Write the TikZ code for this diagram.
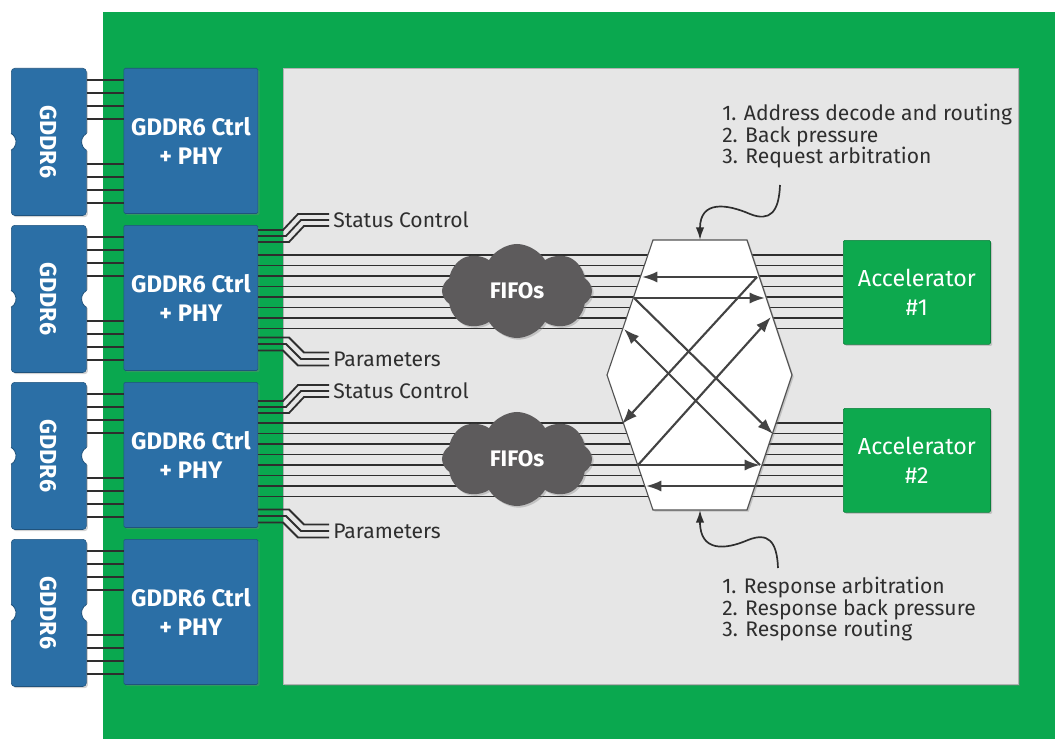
\documentclass[tikz,border=0pt]{standalone}
\usepackage{fontspec}
\setmainfont{Fira Sans}
\usetikzlibrary{arrows.meta, positioning, calc, shapes.symbols, shadows}
\definecolor{boardgreen}{HTML}{0AA84F}
\definecolor{accgreen}{HTML}{0DA94E}
\definecolor{ctrlblue}{HTML}{2B6FA6}
\definecolor{panelgray}{HTML}{E6E6E6}
\definecolor{fifogray}{HTML}{5D5B5C}
\definecolor{wiregray}{HTML}{2E2E2E}

\begin{document}
\begin{tikzpicture}[x=0.025cm, y=-0.025cm,
  softshadow/.style={drop shadow={opacity=0.35, shadow xshift=1.2pt, shadow yshift=-1.2pt}},
  chip/.style={draw=ctrlblue!75!black, fill=ctrlblue, rounded corners=2.5pt, minimum width=1.875cm, minimum height=3.68cm, inner sep=0pt, softshadow,
    label={[rotate=-90, text=white, font=\fontsize{16.5}{16.5}\selectfont\bfseries]center:GDDR6}},
  ctrl/.style={draw=ctrlblue!75!black, fill=ctrlblue, rounded corners=1pt, minimum width=3.35cm, minimum height=3.63cm, softshadow, text=white, font=\fontsize{17}{20}\selectfont\bfseries, align=center},
  accel/.style={draw=accgreen!75!black, fill=accgreen, rounded corners=1pt, minimum width=3.68cm, minimum height=2.6cm, softshadow, text=white, font=\fontsize{16.5}{20.5}\selectfont, align=center},
  fifo/.style={cloud, cloud puffs=8, cloud puff arc=120, aspect=1.6, fill=fifogray, softshadow, minimum width=3.75cm, minimum height=2.35cm, text=white, font=\fontsize{16}{16}\selectfont\bfseries},
  notch/.style={fill=white},
  notchedge/.style={draw=ctrlblue!75!black, line width=0.6pt},
  wire/.style={wiregray, line width=1.2pt},
  bus/.style={wiregray, line width=1.3pt},
  xarrow/.style={-{Latex[length=11pt, width=8pt]}, wiregray!90, line width=1.5pt},
  curl/.style={-{Latex[length=9pt, width=6pt]}, wiregray, line width=1.2pt},
  tag/.style={anchor=west, inner sep=0pt, text=wiregray, font=\fontsize{15}{15}\selectfont},
  note/.style={anchor=north west, inner sep=0pt, align=left, text=wiregray, font=\fontsize{15}{15.3}\selectfont},
]
\useasboundingbox (0,0) rectangle (1055,742);

% Board and fabric area
\fill[boardgreen] (103,12) rectangle (1060,739);
\path[fill=panelgray, draw=gray!60, softshadow] (283,68) rectangle (1018,684);

% Memory chips and controllers
\foreach \i/\t in {1/68, 2/225, 3/382, 4/539} {
  \node[chip, anchor=north west] (chip\i) at (11,\t) {};
  \fill[notch] ([xshift=-3.3pt]chip\i.west) circle[radius=6.9pt] ([xshift=3.3pt]chip\i.east) circle[radius=6.9pt];
  \draw[notchedge] ([xshift=-3.3pt]chip\i.west) ++(-61:6.9pt) arc[start angle=-61, end angle=61, radius=6.9pt];
  \draw[notchedge] ([xshift=3.3pt]chip\i.east) ++(119:6.9pt) arc[start angle=119, end angle=241, radius=6.9pt];
  \node[ctrl, right=0.925cm of chip\i.north east, anchor=north west] (ctrl\i) {GDDR6 Ctrl\\+ PHY};
  \foreach \o in {12,25,38,51,96,109,122,135}
    \draw[wire] ($(chip\i.north east)+(0,\o)$) coordinate (w) -- (ctrl\i.west |- w);
}

% Accelerators
\node[accel, anchor=north west] (acc1) at (843,240) {Accelerator\\\#1};
\node[accel, anchor=north west] (acc2) at (843,408) {Accelerator\\\#2};

% Side signals
\node[tag] (stat1) at (333,220) {Status Control};
\node[tag] (par1) at (333,359) {Parameters};
\node[tag] (stat2) at (333,391) {Status Control};
\node[tag] (par2) at (333,531) {Parameters};

% Buses
\foreach \acc/\ctl in {acc1/ctrl2, acc2/ctrl3}
  \foreach \o in {15, 25.5, ..., 89}
    \draw[bus] ($(\acc.north west)+(0,\o)$) coordinate (p) -- (\ctl.east |- p);

\foreach \ctl/\st/\pa in {ctrl2/stat1/par1, ctrl3/stat2/par2} {
  \foreach \k in {-1,0,1} {
    \draw[bus] ($(\st.west)+(-4,6*\k)$) -- ++({-28+3*\k},0) -- ++(-15,16) coordinate (q) -- (\ctl.east |- q);
    \draw[bus] ($(\pa.west)+(-4,6.5*\k)$) -- ++({-28-3*\k},0) -- ++(-15,-15) coordinate (q) -- (\ctl.east |- q);
  }
}

% FIFOs
\node[fifo] (fifo1) at (517,291) {FIFOs};
\node[fifo] (fifo2) at (517,459) {FIFOs};

% Crossbar
\path[fill=white, draw=gray!65!black, line width=0.8pt, softshadow]
  (653,240) coordinate (hexnw) -- (747,240) coordinate (hexne) -- (792,375) coordinate (hexe)
  -- (747,510) coordinate (hexse) -- (653,510) coordinate (hexsw) -- (607,375) coordinate (hexw) -- cycle;
\coordinate (hexn) at (700,240);
\coordinate (hexs) at (700,510);

\coordinate (xa) at (757,277);
\coordinate (xk) at (642,277);
\coordinate (xb) at (634,298);
\coordinate (xl) at (765,298);
\coordinate (xh) at (771,317);
\coordinate (xe) at (624,329);
\coordinate (xd) at (622,424);
\coordinate (xc) at (773,434);
\coordinate (xg) at (638,465);
\coordinate (xf) at (760,465);
\coordinate (xi) at (755,486);
\coordinate (xj) at (646,486);

\draw[xarrow] (xa) -- (xk);
\draw[xarrow] (xb) -- (xl);
\draw[xarrow] (xb) -- (xc);
\draw[xarrow] (xa) -- (xd);
\draw[xarrow] (xg) -- (xf);
\draw[xarrow] (xg) -- (xh);
\draw[xarrow] (xf) -- (xe);
\draw[xarrow] (xi) -- (xj);

% Notes
\node[note] (req) at (722,104) {1. Address decode and routing\\2. Back pressure\\3. Request arbitration};
\node[note] (resp) at (722,577) {1. Response arbitration\\2. Response back pressure\\3. Response routing};
\coordinate (reqtail) at (780,185);
\coordinate (resptail) at (778,568);

\draw[curl] (reqtail) .. controls (779,212) and (770,222) .. (750,214) .. controls (727,204) and (700,200) .. (hexn);
\draw[curl] (resptail) .. controls (777,541) and (768,532) .. (748,540) .. controls (725,550) and (700,552) .. (hexs);

\end{tikzpicture}
\end{document}
